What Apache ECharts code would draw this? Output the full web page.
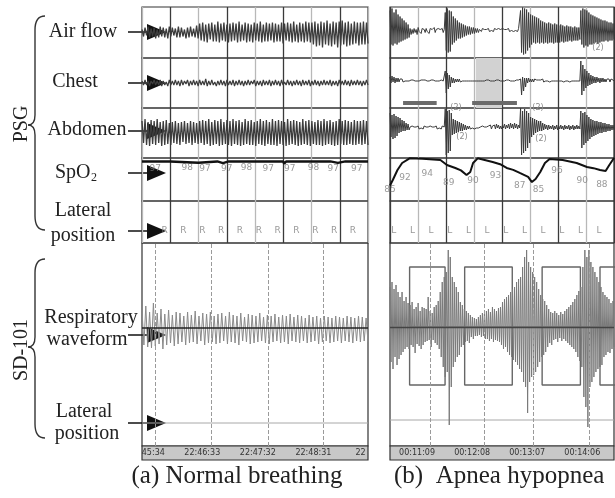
<!DOCTYPE html>
<html>
<head>
<meta charset="utf-8">
<title>PSG vs SD-101</title>
<script src="https://cdn.jsdelivr.net/npm/echarts@6.0.0/dist/echarts.min.js"></script>
<style>
  html, body { margin: 0; padding: 0; background: #fff; }
  #chart { width: 615px; height: 498px; }
</style>
</head>
<body>
<div id="chart"></div>
<script>
// trace samples, baseline = 0, up = positive
var airA = [
  3, -4, 5, -3, 6, -5, 4, -4, 5, -6, 3, -5, 6, -4, 5, -5, 4, -6, 6, -4,
  5, -3, 4, -5, 6, -5, 5, -4, 3, -6, 5, -5, 6, -4, 4, -5, 7, -6,
  9, -8, 10, -9, 8, -10, 9, -7, 10, -9, 8, -9, 11, -10, 9, -8, 10, -9, 8, -10,
  9, -9, 10, -8, 9, -10, 11, -9, 8, -8, 10, -10, 9, -9, 8, -10, 10, -8, 9, -9,
  11, -10, 8, -9, 10, -9, 9, -8, 10, -10, 9, -9, 8, -9, 10, -11, 9, -8, 10, -9,
  9, -10, 11, -9, 8, -10, 10, -9, 9, -10, 11, -9, 10, -10,
  10, -12, 11, -14, 9, -13, 11, -15, 10, -12, 12, -13, 9, -14, 11, -12, 10, -15, 11, -13,
  12, -12, 10, -14, 11, -13, 9, -12, 11, -11, 10, -13, 10, -12, 11, -12, 10, -11
];
var chestA = [
  2, -2, 3, -2, 2, -3, 2, -1, 3, -2, 2, -2, 3, -3, 2, -2, 1, -3, 3, -2,
  2, -2, 3, -2, 2, -3, 3, -2, 2, -1, 3, -3, 2, -2, 3, -2, 2, -3, 3, -2,
  2, -2, 4, -3, 2, -2, 3, -2, 1, -3, 2, -2, 3, -2, 2, -3, 3, -2, 2, -2,
  3, -3, 2, -2, 3, -2, 2, -3, 2, -2, 3, -2, 2, -1, 3, -3, 2, -2, 2, -3,
  3, -2, 2, -2, 3, -3, 2, -2, 3, -2, 2, -3, 3, -2, 1, -2, 3, -2, 2, -3,
  2, -2, 3, -2, 2, -3, 3, -2, 2, -2, 3, -3, 2, -2, 3, -2, 2, -3, 2, -2,
  3, -2, 2, -2, 3, -3, 2, -2, 2, -3, 3, -2, 2, -2, 3, -2, 2, -3, 3, -2,
  2, -2, 3, -2, 2, -3, 2, -2, 3, -2
];
var abdA = [
  12, -10, 14, -12, 11, -13, 13, -11, 12, -12, 14, -10, 11, -13, 12, -12, 13, -11, 10, -12,
  11, -10, 12, -11, 10, -12, 11, -9, 12, -11, 10, -10, 12, -12, 11, -10, 10, -11, 12, -10,
  13, -12, 12, -11, 14, -13, 11, -12, 13, -11, 12, -13, 14, -12, 11, -11, 13, -12, 12, -13,
  14, -11, 12, -12, 13, -13, 11, -12, 14, -11, 12, -12, 13, -12, 11, -13, 12, -11, 14, -12,
  12, -13, 13, -11, 11, -12, 14, -12, 12, -13, 13, -11, 12, -12, 11, -13, 14, -12, 12, -11,
  13, -12, 12, -13, 11, -12, 14, -11, 12, -12, 13, -13, 12, -11, 11, -12, 13, -12, 12, -13,
  14, -12, 12, -11, 13, -12, 11, -13, 12, -12, 14, -11, 12, -12, 13, -12, 12, -11, 11, -12,
  13, -12, 12, -11, 12, -12, 13, -11, 12, -12
];
var sdRespA = [
  18, -17, 22, -19, 16, -20, 25, -18, 15, -16, 19, -21, 14, -17, 18, -15, 13, -18, 16, -16,
  15, -14, 12, -17, 16, -15, 13, -14, 17, -16, 12, -13, 15, -17, 14, -15, 16, -14, 12, -16,
  14, -15, 15, -13, 12, -16, 16, -14, 13, -15, 12, -17, 15, -13, 11, -14, 14, -16, 13, -15,
  12, -14, 15, -13, 11, -15, 13, -16, 12, -14, 14, -13, 11, -15, 13, -14, 12, -16, 14, -13,
  11, -14, 13, -15, 12, -13, 10, -15, 13, -14, 11, -13, 12, -16, 10, -14, 12, -13, 11, -15,
  10, -14, 12, -13, 11, -15, 10, -13, 12, -14, 11, -15, 10, -13, 12, -14, 11, -13, 10, -14
];

var airB = [
  22, -12, 24, -13, 20, -11, 23, -12,
  18, -10, 16, -9, 14, -8, 12, -7, 10, -6, 8, -5,
  4, -2, 3, -1, 4, 0, 3, -2, 5, 1, 3, -1, 4, 2, 3, 0, 4, 1, 3, -1, 4, 2, 3, 1, 5, 0, 3, 1, 4, 2, 3, 1, 4, 0, 3,
  20, -18, 24, -20, 22, -19, 21,
  -12, 16, -10, 14, -8, 12, -6, 10, -6, 9, -5, 8, -4,
  7, -3, 6, -2, 6, -2, 5, -1, 5, -1, 4, 0, 4, 0, 3,
  3, 1, 4, 2, 3, 1, 3, 2, 4, 1, 3, 2, 3, 1, 4, 2, 3, 1, 4, 2, 3, 1, 4, 2, 3, 1, 3, 2, 4, 1, 3, 2, 4, 1, 3, 2, 3, 1, 4, 2,
  22, -20, 25, -22, 24, -21, 23, -18, 20, -15,
  18, -12, 17, -10, 16, -11, 15, -10, 14, -11,
  12, -10, 11, -11, 10, -10, 9, -11, 10, -10, 9, -10, 8, -11, 9, -10, 8, -10, 7, -10, 8, -9, 7, -10, 6, -9, 7, -9, 6, -8, 6, -9, 5, -8, 6, -8, 5, -8, 5, -7,
  22, -12, 24, -15, 23, -13, 22, -14, 20, -12,
  18, -12, 17, -11, 16, -10, 15, -11, 14, -10, 13, -9, 12, -9, 12, -8, 11, -9, 10, -8, 10, -8, 9, -7
];
var chestB = [
  6, 0, 7, 1, 6, 0, 5, 1,
  5, 1, 4, 2, 4, 1, 3, 2, 3, 2, 3, 2,
  2, 3, 2, 3, 2, 2, 3, 2, 3, 2, 2, 3, 2, 3, 2, 3, 2, 2, 3, 2, 2, 3, 2, 3, 2, 2, 3, 2, 3, 2, 2, 3, 2, 2, 3,
  12, -10, 10, -6, 8, -4, 6,
  0, 5, 0, 4, 1, 4, 1, 4, 1, 3, 2, 3, 2,
  3, 2, 3, 2, 3, 2, 3, 2, 3, 2, 3, 2, 3, 2, 3,
  2, 3, 2, 3, 2, 2, 3, 2, 3, 2, 2, 3, 2, 3, 2, 2, 3, 2, 3, 2, 2, 3, 2, 3, 2, 2, 3, 2, 3, 2, 2, 3, 2, 3, 2, 2, 3, 2, 3, 2,
  4, -12, 6, -8, 5, -4, 5, 0, 5, 1,
  4, 1, 4, 1, 4, 2, 3, 2, 3, 2,
  3, 2, 4, 1, 3, 2, 3, 2, 4, 1, 3, 2, 3, 2, 3, 2, 3, 2, 3, 2, 3, 2, 4, 1, 3, 2, 3, 2, 4, 1, 3, 2, 3, 2, 3, 2, 3, 2, 3, 2,
  22, -12, 18, -8, 14, -5, 12, -3, 10, -2,
  8, -1, 7, 0, 6, 0, 6, 1, 5, 0, 5, 1, 5, 1, 4, 1, 4, 2, 4, 1, 4, 2, 3, 2
];
var abdB = [
  20, -4, 18, -6, 19, -5, 17, -3,
  16, 0, 15, 1, 13, 2, 12, 2, 10, 3, 9, 3,
  6, 4, 7, 5, 6, 4, 6, 5, 7, 4, 6, 5, 6, 4, 7, 5, 6, 5, 6, 4, 7, 5, 6, 4, 6, 5, 7, 4, 6, 5, 6, 4, 7, 5, 6,
  24, -22, 22, -20, 23, -18, 20,
  -2, 14, -1, 13, 0, 12, 1, 11, 2, 10, 2, 9, 3,
  8, 3, 7, 4, 7, 4, 6, 5, 7, 4, 6, 5, 6, 5, 6,
  6, 4, 7, 5, 6, 4, 6, 5, 7, 5, 8, 4, 7, 5, 8, 4, 9, 5, 8, 4, 7, 4, 8, 5, 9, 4, 8, 5, 9, 4, 10, 5, 9, 4, 10, 5, 9, 4, 8, 5,
  25, -22, 22, -20, 24, -18, 22, -15, 20, -10,
  16, -4, 15, -2, 14, 0, 13, 1, 12, 2,
  12, 2, 10, 3, 9, 4, 8, 3, 8, 4, 7, 4, 8, 3, 7, 4, 8, 3, 7, 4, 8, 4, 7, 3, 8, 4, 7, 4, 8, 3, 7, 4, 8, 3, 7, 4, 8, 4, 7, 4,
  22, -15, 20, -12, 21, -10, 18, -8, 16, -6,
  14, -4, 13, -3, 12, -2, 12, -1, 11, 0, 11, 0, 10, 1, 10, 1, 9, 2, 9, 2, 8, 3, 8, 3
];
var sdRespB = [
  40, -35, 45, -42, 38, -30, 42, -38, 35, -32,
  30, -28, 35, -25, 26, -22, 30, -20, 24, -22,
  22, -18, 25, -20, 18, -26, 20, -17, 24, -19, 16, -22, 20, -18, 19,
  -15, 18, -14, 30, -13, 16, -20, 14, -13, 20, -16, 22, -18, 26, -22,
  35, -30, 45, -40, 50, -50, 55, -45, 77, -98, 70, -60,
  50, -40, 45, -35, 40, -30, 35, -28,
  25, -20, 22, -18, 18, -15, 16, -14, 14, -16, 12, -10, 10, -12, 9, -9, 8, -9, 10, -8,
  12, -10, 14, -9, 13, -12, 16, -12, 18, -14, 15, -12, 20, -15, 18, -13, 16, -14, 19, -15,
  20, -18, 25, -22, 28, -20, 30, -25, 32, -28, 35, -30, 38, -33, 40, -35, 45, -38, 48, -42,
  50, -45, 60, -55, 70, -60, 77, -86, 65, -55, 60, -50, 55, -48, 50,
  -45, 45, -40, 38, -35, 32, -30, 28, -28, 26,
  -25, 22, -20, 18, -16, 15, -18, 14, -13, 16, -12, 14, -15, 12, -11, 15, -14, 13, -12, 16, -14, 18, -16, 20, -18, 22, -20, 25, -22, 28, -25, 32, -30, 36, -34,
  40, -40, 60, -70, 77, -80, 70, -100, 77, -60, 65, -55, 60, -50, 55, -45, 50, -42, 45, -40,
  40, -38, 35, -30, 32, -28, 30, -25, 28, -26, 24, -22, 26, -20
];

// SpO2 [time s, %]
var spo2A = [[0, 99], [30, 99], [32, 98.2], [60, 98.2], [62, 99], [80, 99], [86, 98], [92, 99],
  [150, 99], [151, 97.6], [153, 99], [200, 99], [208, 98.2], [216, 99], [240, 99]];
var spo2B = [[0, 85], [3, 88.2], [8, 94], [13, 98.1], [21, 100.8], [35, 100.6], [54, 99.8],
  [61, 96.9], [70, 95.2], [76, 93.8], [82, 91.1], [86, 92.9], [89, 98.1], [94, 100.8],
  [110, 98.7], [118, 97.4], [125, 95.2], [132, 94.1], [139, 92.3], [148, 90], [152, 87],
  [156, 88.8], [161, 92.9], [166, 98.1], [171, 100.4], [185, 99.8], [200, 98.1],
  [211, 95.8], [218, 95.1], [225, 94], [231, 93.4], [235, 96.9], [240, 101]];
var spo2TimesA = [14, 48, 67, 90, 111, 134, 157, 182, 203, 228];
var spo2ValsA = [97, 98, 97, 97, 98, 97, 97, 98, 97, 97];
var spo2TimesB = [0, 16, 40, 63, 89, 113, 139, 159, 179, 206, 227];
var spo2ValsB = [85, 92, 94, 89, 90, 93, 87, 85, 96, 90, 88];

// lateral position epochs
var posTimesA = [24, 44, 64, 84, 104, 124, 144, 164, 184, 204, 224];
var posTimesB = [4, 24, 44, 64, 84, 104, 124, 144, 164, 184, 204, 224];
var posA = 'R', posB = 'L';

// SD-101 lateral position level, square-wave events, dashed markers
var sdPosA = [-95, -95];
var sdPosB = [-93, -93];
var sdEventsB = [[21, 59], [80, 131], [163, 204], [225, 250]];
var sdBoxHi = 60, sdBoxLo = -58;
var sdDashA = [14, 74, 134, 192];
var sdDashB = [43, 101, 153, 214];

// PSG event marks in panel b
var hypBarsB = [[14, 50], [88, 136]];
var apneaAreaB = [92, 120];

// time bar
var timeTicksA = [12, 64, 123, 182, 232];
var timeTextA = ['45:34', '22:46:33', '22:47:32', '22:48:31', '22'];
var timeTicksB = [29, 88, 147, 206];
var timeTextB = ['00:11:09', '00:12:08', '00:13:07', '00:14:06'];

var SPAN = 240;
var frame = '#333';
var serif = '"Liberation Serif", "DejaVu Serif", serif';

function toPairs(vals, span) {
  var step = span / (vals.length - 1);
  return vals.map(function (v, i) {
    return [i * step, v];
  });
}

var chart = echarts.init(document.getElementById('chart'), null, { renderer: 'canvas' });

// left 142 (a) / 390 (b); PSG rows then SD-101 then time bars
var L_A = 142, W_A = 226, L_B = 390, W_B = 224;
var rows = [[7, 51], [58, 50], [108, 50], [158, 43], [201, 42]];
var grids = [], xAxes = [], yAxes = [];

function addGrid(left, top, width, height, opts) {
  var g = {
    left: left, top: top, width: width, height: height, show: true,
    borderColor: frame, borderWidth: 1.2, backgroundColor: opts.bg || 'transparent'
  };
  grids.push(g);
  var gi = grids.length - 1;
  xAxes.push({
    gridIndex: gi, type: 'value', min: 0, max: SPAN, interval: 30,
    axisLine: { show: false }, axisTick: { show: false },
    axisLabel: opts.labels ? {
      show: true, inside: true, margin: 3, fontSize: 8, color: '#333',
      fontFamily: '"DejaVu Sans", sans-serif',
      customValues: opts.labels[0],
      formatter: function (v) {
        return opts.labels[1][opts.labels[0].indexOf(v)];
      }
    } : { show: false },
    splitLine: opts.split ? { show: true, lineStyle: { color: opts.split, width: 1.3 } } : { show: false }
  });
  yAxes.push({ gridIndex: gi, type: 'value', min: opts.y[0], max: opts.y[1], show: false });
  return gi;
}

var ranges = [[-25.5, 25.5], [-25, 25], [-25, 25], [76, 101], [0, 42]];
var gA = [], gB = [];
rows.forEach(function (r, i) {
  gA.push(addGrid(L_A, r[0], W_A, r[1], { y: ranges[i], split: ['#b8b8b8', '#3a3a3a'] }));
});
rows.forEach(function (r, i) {
  gB.push(addGrid(L_B, r[0], W_B, r[1], { y: ranges[i], split: ['#3a3a3a', '#b8b8b8'] }));
});
var gSdA = addGrid(L_A, 243, W_A, 203, { y: [-118, 85] });
var gSdB = addGrid(L_B, 243, W_B, 203, { y: [-119, 84] });
addGrid(L_A, 446, W_A, 14, { y: [0, 1], bg: '#c8c8c8', labels: [timeTicksA, timeTextA] });
addGrid(L_B, 446, W_B, 14, { y: [0, 1], bg: '#c8c8c8', labels: [timeTicksB, timeTextB] });

function trace(gi, data, color, width) {
  return {
    type: 'line', xAxisIndex: gi, yAxisIndex: gi, data: data,
    symbol: 'none', silent: true, animation: false,
    lineStyle: { color: color, width: width || 1 }
  };
}

function textMarks(gi, times, vals, txt, dy) {
  return {
    type: 'scatter', xAxisIndex: gi, yAxisIndex: gi, symbolSize: 1, silent: true, animation: false,
    itemStyle: { color: 'rgba(0,0,0,0)' },
    data: times.map(function (t, i) {
      return [t, vals[i]];
    }),
    label: {
      show: true, position: 'inside', offset: [0, dy], color: '#808080', fontSize: 9,
      fontFamily: '"DejaVu Sans", sans-serif',
      formatter: function (p) {
        return txt || String(p.value[1]);
      }
    }
  };
}

function sdMarks(dash) {
  return {
    silent: true, symbol: 'none', animation: false, label: { show: false },
    data: dash.map(function (t) {
      return { xAxis: t, lineStyle: { color: '#9a9a9a', type: 'dashed', width: 1 } };
    })
  };
}

var series = [];
// panel a PSG
series.push(trace(gA[0], toPairs(airA, SPAN), '#3c3c3c', 1.3));
series.push(trace(gA[1], toPairs(chestA, SPAN), '#3c3c3c', 1.2));
series.push(trace(gA[2], toPairs(abdA, SPAN), '#3c3c3c', 1.3));
series.push(trace(gA[3], spo2A, '#111', 2.4));
series.push(textMarks(gA[3], spo2TimesA, spo2ValsA, null, 4));
series.push(textMarks(gA[4], posTimesA, posTimesA.map(function () { return 12; }), posA, 0));

// panel b PSG
var chestSeries = trace(gB[1], toPairs(chestB, SPAN), '#3a3a3a', 1);
chestSeries.markArea = {
  silent: true, animation: false,
  itemStyle: { color: '#d2d2d2' },
  data: [[{ xAxis: apneaAreaB[0] }, { xAxis: apneaAreaB[1] }]]
};
series.push(trace(gB[0], toPairs(airB, SPAN), '#3a3a3a', 1));
series.push(chestSeries);
hypBarsB.forEach(function (b) {
  series.push(trace(gB[1], [[b[0], -20], [b[1], -20]], '#6a6a6a', 4));
});
series.push(trace(gB[2], toPairs(abdB, SPAN), '#3a3a3a', 1));
series.push(trace(gB[3], spo2B, '#111', 2));
series.push(textMarks(gB[3], spo2TimesB, spo2ValsB, null, 4));
series.push(textMarks(gB[4], posTimesB, posTimesB.map(function () { return 12; }), posB, 0));

// SD-101 panels
var latA = trace(gSdA, toPairs(sdPosA, SPAN), '#a8a8a8', 1);
latA.markLine = sdMarks(sdDashA);
series.push(latA);
var respA = trace(gSdA, toPairs(sdRespA, SPAN), '#8a8a8a', 1);
respA.markLine = {
  silent: true, symbol: 'none', animation: false, label: { show: false },
  data: [{ yAxis: 0, lineStyle: { color: '#222', width: 1.6, type: 'solid' } }]
};
series.push(respA);

var latB = trace(gSdB, toPairs(sdPosB, SPAN), '#a8a8a8', 1);
latB.markLine = sdMarks(sdDashB);
series.push(latB);
var boxData = [];
sdEventsB.forEach(function (e) {
  boxData.push([e[0], 0], [e[0], sdBoxHi], [e[1], sdBoxHi], [e[1], sdBoxLo], [e[0], sdBoxLo], [e[0], 0]);
});
series.push(trace(gSdB, boxData, '#666', 1.4));
var respB = trace(gSdB, toPairs(sdRespB, SPAN), '#7a7a7a', 1);
respB.markLine = {
  silent: true, symbol: 'none', animation: false, label: { show: false },
  data: [{ yAxis: 0, lineStyle: { color: '#444', width: 1.4, type: 'solid' } }]
};
series.push(respB);

// labels, arrows, braces
var graphics = [];
function label(txt, x, y, size, align) {
  graphics.push({
    type: 'text', x: x, y: y, silent: true,
    style: { text: txt, font: (size || 20) + 'px ' + serif, fill: '#222', align: align || 'center', verticalAlign: 'middle' }
  });
}
function arrow(y) {
  graphics.push({ type: 'line', silent: true, shape: { x1: 128, y1: y, x2: 150, y2: y }, style: { stroke: '#111', lineWidth: 1.5 } });
  graphics.push({ type: 'polygon', silent: true, shape: { points: [[147, y - 8], [166, y], [147, y + 8]] }, style: { fill: '#111' } });
}
function curve(x1, y1, cx, cy, x2, y2) {
  graphics.push({
    type: 'bezierCurve', silent: true,
    shape: { x1: x1, y1: y1, cpx1: cx, cpy1: cy, x2: x2, y2: y2 },
    style: { stroke: '#333', lineWidth: 1.4, fill: null }
  });
}
function seg(x1, y1, x2, y2) {
  graphics.push({ type: 'line', silent: true, shape: { x1: x1, y1: y1, x2: x2, y2: y2 }, style: { stroke: '#333', lineWidth: 1.4 } });
}
function brace(yT, yM, yB) {
  curve(45, yT, 35, yT, 35, yT + 14);
  seg(35, yT + 14, 35, yM - 10);
  curve(35, yM - 10, 35, yM, 28, yM);
  curve(28, yM, 35, yM, 35, yM + 10);
  seg(35, yM + 10, 35, yB - 14);
  curve(35, yB - 14, 35, yB, 45, yB);
}

label('Air flow', 83, 32);
label('Chest', 75, 82);
label('Abdomen', 87, 130);
label('SpO', 55, 173, 20, 'left');
label('2', 91, 178, 12, 'left');
label('Lateral', 83, 211);
label('position', 83, 236);
label('Respiratory', 91, 318);
label('waveform', 87, 340);
label('Lateral', 84, 412);
label('position', 87, 434);
[32, 83, 131, 173, 231, 335, 423].forEach(arrow);
brace(16, 125, 230);
brace(259, 347, 438);
graphics.push({
  type: 'text', x: 22, y: 124, rotation: Math.PI / 2, silent: true,
  style: { text: 'PSG', font: '20px ' + serif, fill: '#222', align: 'center', verticalAlign: 'middle' }
});
graphics.push({
  type: 'text', x: 22, y: 350, rotation: Math.PI / 2, silent: true,
  style: { text: 'SD-101', font: '20px ' + serif, fill: '#222', align: 'center', verticalAlign: 'middle' }
});
label('(a) Normal breathing', 237, 476, 25);
label('(b)  Apnea hypopnea', 394, 476, 25, 'left');
[[456, 108], [538, 108], [462, 137], [541, 139], [598, 48]].forEach(function (p) {
  graphics.push({
    type: 'text', x: p[0], y: p[1], silent: true,
    style: { text: '(2)', font: '8px "DejaVu Sans", sans-serif', fill: '#8a8a8a', align: 'center', verticalAlign: 'middle' }
  });
});

chart.setOption({
  backgroundColor: '#fff',
  animation: false,
  grid: grids,
  xAxis: xAxes,
  yAxis: yAxes,
  series: series,
  graphic: graphics
});
</script>
</body>
</html>
